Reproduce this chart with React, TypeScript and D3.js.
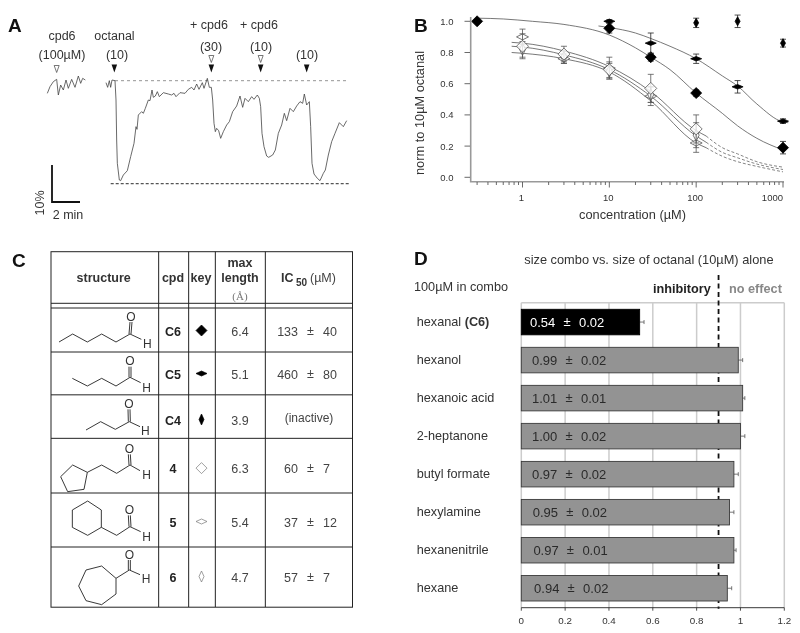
import React from 'react';
import * as d3 from 'd3';

// ---------- Panel A data ----------
const mainTrace: [number, number][] = [[318,352],[323,338],[328,358],[332,338],[336,360],[345,358],[348,300],[350,180],[352,110],[358,60],[362,58],[370,75],[382,88],[392,130],[402,170],[405,195],[408,220],[411,212],[415,255],[425,265],[430,260],[436,275],[445,300],[450,298],[456,330],[460,308],[466,312],[472,325],[478,310],[490,322],[505,318],[515,315],[522,320],[528,310],[540,322],[555,320],[565,332],[575,338],[582,330],[590,348],[597,332],[607,352],[612,335],[622,365],[628,338],[634,338],[638,300],[642,230],[646,205],[650,215],[656,208],[662,185],[670,205],[680,225],[688,235],[698,265],[710,282],[720,312],[728,278],[735,305],[745,295],[755,310],[762,302],[772,315],[778,305],[782,280],[786,200],[792,160],[800,132],[806,128],[818,135],[826,150],[835,200],[845,225],[853,260],[860,238],[870,275],[880,265],[890,282],[900,295],[908,290],[913,318],[920,285],[928,295],[932,220],[936,110],[942,78],[952,65],[960,58],[970,80],[976,90],[985,135],[995,175],[1005,200],[1018,232],[1030,220],[1040,238]];
const cpd6Trace: [number, number][] = [[142,320],[150,340],[160,355],[170,362],[175,315],[182,345],[190,330],[198,360],[205,335],[215,362],[225,338],[235,372],[242,350],[248,365],[256,360]];
const filledArrows = [343, 634, 782, 920];
const openArrows: [number, number][] = [[170, 0], [634, 1], [782, 1]];

// ---------- Panel B data ----------
type Pt = { c: number; v: number; e: number };
const ptsC6: Pt[] = [{c:0.3,v:1.0,e:0.005},{c:10,v:0.955,e:0.03},{c:30,v:0.77,e:0.025},{c:100,v:0.54,e:0.02},{c:1000,v:0.19,e:0.04}];
const ptsC5: Pt[] = [{c:10,v:1.0,e:0.01},{c:30,v:0.86,e:0.065},{c:100,v:0.76,e:0.03},{c:300,v:0.58,e:0.04},{c:1000,v:0.36,e:0.015}];
const ptsC4: Pt[] = [{c:100,v:0.99,e:0.03},{c:300,v:1.0,e:0.04},{c:1000,v:0.86,e:0.025}];
const pts4: Pt[] = [{c:1,v:0.84,e:0.08},{c:3,v:0.79,e:0.05},{c:10,v:0.69,e:0.05},{c:30,v:0.57,e:0.09},{c:100,v:0.31,e:0.09}];
const pts5: Pt[] = [{c:1,v:0.90,e:0.05},{c:3,v:0.76,e:0.03},{c:10,v:0.70,e:0.07},{c:30,v:0.52,e:0.06},{c:100,v:0.22,e:0.06}];
const pts6: Pt[] = [{c:1,v:0.82,e:0.05},{c:3,v:0.77,e:0.04},{c:10,v:0.68,e:0.05},{c:30,v:0.53,e:0.05},{c:100,v:0.27,e:0.08}];
const fitC6: [number, number][] = [[0.3,1.02],[0.6,1.015],[1.3,1.0],[3,0.98],[10,0.912],[20,0.83],[30,0.77],[50,0.69],[100,0.54],[200,0.41],[300,0.33],[500,0.25],[1000,0.175]];
const fitC5: [number, number][] = [[7.5,0.97],[10,0.96],[20,0.925],[30,0.89],[50,0.84],[100,0.76],[200,0.65],[300,0.585],[500,0.47],[1000,0.355],[1150,0.35]];
const fit4: [number, number][] = [[0.75,0.865],[1,0.86],[3,0.81],[10,0.71],[30,0.55],[100,0.30],[130,0.265]];
const fit5: [number, number][] = [[0.75,0.80],[1,0.795],[3,0.76],[10,0.675],[30,0.49],[100,0.22],[130,0.19]];
const fit6: [number, number][] = [[0.75,0.84],[1,0.835],[3,0.785],[10,0.69],[30,0.52],[100,0.265],[130,0.225]];
const tail4: [number, number][] = [[130,0.265],[200,0.19],[300,0.15],[500,0.1],[1000,0.065]];
const tail5: [number, number][] = [[130,0.19],[200,0.135],[300,0.1],[500,0.07],[1000,0.035]];
const tail6: [number, number][] = [[130,0.225],[200,0.16],[300,0.125],[500,0.085],[1000,0.05]];
const yTicksB = [0, 0.2, 0.4, 0.6, 0.8, 1.0];

// ---------- Panel C data ----------
const tableRows = [
  { cpd: 'C6', len: '6.4', ic: '133', pm: '40', kind: 'wide' },
  { cpd: 'C5', len: '5.1', ic: '460', pm: '80', kind: 'flat' },
  { cpd: 'C4', len: '3.9', ic: '', pm: '', kind: 'tall' },
  { cpd: '4', len: '6.3', ic: '60', pm: '7', kind: 'wide' },
  { cpd: '5', len: '5.4', ic: '37', pm: '12', kind: 'flat' },
  { cpd: '6', len: '4.7', ic: '57', pm: '7', kind: 'tall' },
];
type Mol = { bonds: [number, number][][]; o: [number, number]; h: [number, number]; c: [number, number]; hEnd: [number, number] };
const molecules: Mol[] = [
  { bonds: [[[177,1026],[218,1002],[262,1026],[305,1002],[348,1026],[390,1002]]], c:[390,1002], o:[393,948], h:[442,1030], hEnd:[424,1018] },
  { bonds: [[[217,1135],[262,1158],[305,1135],[348,1158],[390,1132]]], c:[390,1132], o:[390,1082], h:[440,1162], hEnd:[422,1148] },
  { bonds: [[[258,1290],[302,1265],[346,1288],[388,1265]]], c:[388,1265], o:[387,1210], h:[436,1290], hEnd:[420,1280] },
  { bonds: [[[218,1395],[262,1417],[252,1468],[203,1475],[182,1430],[218,1395]],[[262,1417],[305,1395],[350,1420],[390,1395]]], c:[390,1395], o:[388,1345], h:[440,1422], hEnd:[420,1412] },
  { bonds: [[[263,1503],[304,1530],[304,1582],[263,1606],[217,1582],[217,1530],[263,1503]],[[304,1582],[350,1606],[390,1580]]], c:[390,1580], o:[388,1528], h:[440,1608], hEnd:[422,1595] },
  { bonds: [[[348,1735],[348,1782],[305,1814],[258,1802],[236,1758],[258,1710],[305,1698],[348,1735]],[[348,1735],[388,1710]]], c:[388,1710], o:[388,1662], h:[438,1736], hEnd:[420,1724] },
];
const colLines = [476, 566, 646, 796];
const rowLines = [1056, 1184.5, 1315, 1479, 1641];

// ---------- Panel D data ----------
const odorants = ['hexanal', 'hexanol', 'hexanoic acid', '2-heptanone', 'butyl formate', 'hexylamine', 'hexanenitrile', 'hexane'];
const ratios = [0.54, 0.99, 1.01, 1.0, 0.97, 0.95, 0.97, 0.94];
const errors = [0.02, 0.02, 0.01, 0.02, 0.02, 0.02, 0.01, 0.02];
const xTicksD = [0, 0.2, 0.4, 0.6, 0.8, 1, 1.2];
const threshold = 0.9;

const SANS = '"Liberation Sans", Arial, sans-serif';
const INK = '#333';

function diamond(cx: number, cy: number, w: number, h: number) {
  return `M${cx},${cy - h / 2}L${cx + w / 2},${cy}L${cx},${cy + h / 2}L${cx - w / 2},${cy}Z`;
}
function triangle(cx: number, top: number, w: number, h: number) {
  return `M${cx - w / 2},${top}L${cx + w / 2},${top}L${cx},${top + h}Z`;
}

function PanelA() {
  const x = d3.scaleLinear().domain([0, 1200]).range([0, 400]);
  const y = d3.scaleLinear().domain([0, 600]).range([200, 0]);
  const line = d3.line<[number, number]>().x(d => x(d[0])).y(d => y(d[1]));
  const T = (t: string, cx: number, by: number) => <text x={cx} y={by} textAnchor="middle" fontSize={12.5} fill={INK}>{t}</text>;
  return (
    <g fontFamily={SANS}>
      <text x={8} y={32} fontSize={19} fontWeight="bold" fill="#111">A</text>
      {T('cpd6', 62, 40)}{T('(100µM)', 62, 59)}{T('octanal', 114.5, 40)}{T('(10)', 117, 59)}
      {T('+ cpd6', 209, 29)}{T('(30)', 211, 51)}{T('+ cpd6', 259, 29)}{T('(10)', 261, 51)}{T('(10)', 307, 59)}
      {filledArrows.map(f => <path key={f} d={triangle(x(f), 64.5, 5.5, 8)} fill="#111" />)}
      {openArrows.map(([f, lvl]) => <path key={f} d={triangle(x(f), lvl ? 55.5 : 65.5, 5, 7)} fill="#fff" stroke="#555" strokeWidth={0.8} />)}
      <line x1={115} x2={348} y1={80.7} y2={80.7} stroke="#777" strokeWidth={0.8} strokeDasharray="3 3" />
      <line x1={110.7} x2={350} y1={183.7} y2={183.7} stroke="#555" strokeWidth={1.2} strokeDasharray="3 2" />
      <path d={line(mainTrace)!} fill="none" stroke="#444" strokeWidth={0.8} />
      <path d={line(cpd6Trace)!} fill="none" stroke="#444" strokeWidth={0.8} />
      <path d="M52,165V202H80" fill="none" stroke="#111" strokeWidth={1.8} />
      <text transform="translate(43.5,203) rotate(-90)" textAnchor="middle" fontSize={12.5} fill={INK}>10%</text>
      {T('2 min', 68, 219)}
    </g>
  );
}

function PanelB() {
  const x = d3.scaleLog().domain([1, 1000]).range([522.5, 783]);
  const y = d3.scaleLinear().domain([0, 1]).range([177.3, 21.3]);
  const smooth = d3.line<[number, number]>().x(d => x(d[0])).y(d => y(d[1])).curve(d3.curveMonotoneX);
  const minors = d3.scaleLog().domain([0.25, 1000]).ticks().filter(t => t >= 0.29);
  const isMajor = (t: number) => [1, 10, 100, 1000].includes(t);
  const series: { pts: Pt[]; w: number; h: number; fill: string; stroke: string }[] = [
    { pts: pts5, w: 12, h: 6, fill: '#fff', stroke: '#555' },
    { pts: pts6, w: 6, h: 12, fill: '#fff', stroke: '#555' },
    { pts: pts4, w: 12, h: 12, fill: '#fff', stroke: '#555' },
    { pts: ptsC6, w: 11, h: 11, fill: '#000', stroke: '#000' },
    { pts: ptsC5, w: 11, h: 4.5, fill: '#000', stroke: '#000' },
    { pts: ptsC4, w: 5, h: 9, fill: '#000', stroke: '#000' },
  ];
  return (
    <g fontFamily={SANS}>
      <text x={414} y={32} fontSize={19} fontWeight="bold" fill="#111">B</text>
      {[fitC6, fitC5, fit4, fit5, fit6].map((f, i) => <path key={i} d={smooth(f)!} fill="none" stroke="#555" strokeWidth={0.8} />)}
      {[tail4, tail5, tail6].map((f, i) => <path key={i} d={smooth(f)!} fill="none" stroke="#666" strokeWidth={0.8} strokeDasharray="3 2" />)}
      {series.map((s, i) => (
        <g key={i}>
          {s.pts.map(p => (
            <g key={p.c}>
              <path d={`M${x(p.c)},${y(p.v - p.e)}V${y(p.v + p.e)}M${x(p.c) - 3},${y(p.v - p.e)}h6M${x(p.c) - 3},${y(p.v + p.e)}h6`} stroke={s.fill === '#000' ? '#222' : '#555'} strokeWidth={0.8} fill="none" />
              <path d={diamond(x(p.c), y(p.v), s.w, s.h)} fill={s.fill === '#000' ? '#000' : 'rgba(255,255,255,0.8)'} stroke={s.stroke} strokeWidth={0.8} />
            </g>
          ))}
        </g>
      ))}
      <path d="M470.7,17V181.7H784" fill="none" stroke="#999" strokeWidth={1.6} />
      {yTicksB.map(t => (
        <g key={t}>
          <line x1={464.5} x2={470} y1={y(t)} y2={y(t)} stroke="#444" strokeWidth={0.8} />
          <text x={453.5} y={y(t) + 3.5} textAnchor="end" fontSize={9.5} fill="#333">{d3.format('.1f')(t)}</text>
        </g>
      ))}
      {minors.map(t => <line key={t} x1={x(t)} x2={x(t)} y1={182} y2={isMajor(t) ? 187.5 : 185} stroke="#444" strokeWidth={0.8} />)}
      {[1, 10, 100].map(t => <text key={t} x={x(t) - 1} y={201} textAnchor="middle" fontSize={9.5} fill="#333">{t}</text>)}
      <text x={783} y={201} textAnchor="end" fontSize={9.5} fill="#333">1000</text>
      <text transform="translate(424,113) rotate(-90)" textAnchor="middle" fontSize={12.8} fill={INK}>norm to 10µM octanal</text>
      <text x={632.5} y={219} textAnchor="middle" fontSize={12.8} fill={INK}>concentration (µM)</text>
    </g>
  );
}

function PanelC() {
  const z = (v: number) => v / 3;
  const centres = [331, 374, 420, 468.6, 522, 577];
  const bondLine = d3.line<[number, number]>().x(d => z(d[0])).y(d => z(d[1]));
  const hdr = { fontWeight: 'bold' as const, fontSize: 12.5, textAnchor: 'middle' as const, fill: '#333' };
  return (
    <g fontFamily={SANS}>
      <text x={12} y={267} fontSize={19} fontWeight="bold" fill="#111">C</text>
      <rect x={51} y={251.7} width={301.5} height={355.5} fill="none" stroke="#222" strokeWidth={1} />
      {colLines.map(c => <line key={c} x1={z(c)} x2={z(c)} y1={251.7} y2={607} stroke="#222" strokeWidth={1} />)}
      {rowLines.map((r, i) => <line key={i} x1={51} x2={352.5} y1={z(r)} y2={z(r)} stroke="#222" strokeWidth={1} />)}
      <line x1={51} x2={352.5} y1={303.3} y2={303.3} stroke="#222" strokeWidth={1} />
      <line x1={51} x2={352.5} y1={308} y2={308} stroke="#222" strokeWidth={1} />
      <text x={103.7} y={281.5} {...hdr}>structure</text>
      <text x={173} y={281.5} {...hdr}>cpd</text>
      <text x={201} y={281.5} {...hdr}>key</text>
      <text x={240} y={266.5} {...hdr}>max</text>
      <text x={240} y={281.5} {...hdr}>length</text>
      <text x={240} y={300} textAnchor="middle" fontSize={11} fontFamily='"Liberation Serif", serif' fill="#777">(Å)</text>
      <text x={281} y={282} fontSize={12.5} fontWeight="bold" fill="#333">IC</text>
      <text x={296} y={286} fontSize={10} fontWeight="bold" fill="#333">50</text>
      <text x={310} y={282} fontSize={12.5} fill="#444">(µM)</text>
      {tableRows.map((r, i) => {
        const cy = centres[i];
        const open = i > 2;
        const w = r.kind === 'tall' ? 5 : 11;
        const h = r.kind === 'flat' ? 5 : 11;
        const m = molecules[i];
        return (
          <g key={r.cpd}>
            <text x={173} y={cy + 4.5} textAnchor="middle" fontSize={12.5} fontWeight="bold" fill="#222">{r.cpd}</text>
            <path d={diamond(201.5, cy - 0.5, w, h)} fill={open ? '#fff' : '#000'} stroke={open ? '#777' : '#000'} strokeWidth={0.7} />
            <text x={240} y={cy + 4.5} textAnchor="middle" fontSize={12.5} fill="#444">{r.len}</text>
            {r.ic ? (
              <g fontSize={12.5} fill="#444">
                <text x={298} y={cy + 4.5} textAnchor="end">{r.ic}</text>
                <text x={310.5} y={cy + 3.5} textAnchor="middle">±</text>
                <text x={323} y={cy + 4.5}>{r.pm}</text>
              </g>
            ) : (
              <text x={309} y={cy + 2} textAnchor="middle" fontSize={12} fill="#444">(inactive)</text>
            )}
            {m.bonds.map((b, k) => <path key={k} d={bondLine(b)!} fill="none" stroke="#222" strokeWidth={0.9} />)}
            <line x1={z(m.c[0])} x2={z(m.hEnd[0])} y1={z(m.c[1])} y2={z(m.hEnd[1])} stroke="#222" strokeWidth={0.9} />
            <line x1={z(m.c[0]) - 1} x2={z(m.o[0]) - 1} y1={z(m.c[1])} y2={z(m.o[1]) + 6} stroke="#222" strokeWidth={0.9} />
            <line x1={z(m.c[0]) + 1} x2={z(m.o[0]) + 1} y1={z(m.c[1])} y2={z(m.o[1]) + 6} stroke="#222" strokeWidth={0.9} />
            <text x={z(m.o[0])} y={z(m.o[1]) + 4.5} textAnchor="middle" fontSize={12} fill="#333">O</text>
            <text x={z(m.h[0])} y={z(m.h[1]) + 4.5} textAnchor="middle" fontSize={12} fill="#333">H</text>
          </g>
        );
      })}
    </g>
  );
}

function PanelD() {
  const x = d3.scaleLinear().domain([0, 1.2]).range([521.3, 784.3]);
  const y = d3.scaleBand<string>().domain(odorants).range([309.3, 601]).paddingInner(12.5 / 38);
  const top = 302.7, axisY = 607.7;
  return (
    <g fontFamily={SANS}>
      <text x={414} y={264.5} fontSize={19} fontWeight="bold" fill="#111">D</text>
      <text x={524.3} y={264} fontSize={12.8} fill={INK}>size combo vs. size of octanal (10µM) alone</text>
      <text x={414} y={291} fontSize={12.7} fill={INK}>100µM in combo</text>
      <text x={653} y={292.5} fontSize={12.7} fontWeight="bold" fill="#222">inhibitory</text>
      <text x={729} y={292.5} fontSize={12.7} fontWeight="bold" fill="#888">no effect</text>
      <line x1={x(0)} x2={x(1.2)} y1={top} y2={top} stroke="#ccc" strokeWidth={1.5} />
      {xTicksD.map(t => <line key={t} x1={x(t)} x2={x(t)} y1={top} y2={axisY} stroke="#ccc" strokeWidth={1.5} />)}
      <line x1={x(threshold)} x2={x(threshold)} y1={275} y2={axisY + 1} stroke="#111" strokeWidth={1.8} strokeDasharray="5 3.5" />
      {odorants.map((o, i) => {
        const by = y(o)!, bh = y.bandwidth(), mid = by + bh / 2;
        const black = i === 0;
        const vx = 530 + (i === 0 ? 0 : 2 + (i >= 5 ? i - 4 : 0) * 0.7);
        const color = black ? '#fff' : '#2a2a2a';
        return (
          <g key={o}>
            <path d={`M${x(ratios[i])},${mid}H${x(ratios[i] + errors[i])}M${x(ratios[i] + errors[i])},${mid - 2}v4`} stroke="#555" strokeWidth={0.8} fill="none" />
            <rect x={x(0)} y={by} width={x(ratios[i]) - x(0)} height={bh} fill={black ? '#000' : '#939393'} stroke={black ? '#000' : '#3a3a3a'} strokeWidth={0.9} />
            <text x={416.7} y={mid + 3.5} fontSize={12.7} fill={INK}>
              {o}{black && <tspan fontWeight="bold"> (C6)</tspan>}
            </text>
            <g fontSize={13} fill={color}>
              <text x={vx} y={mid + 4.7}>{d3.format('.2f')(ratios[i])}</text>
              <text x={vx + 37} y={mid + 3.5} textAnchor="middle">±</text>
              <text x={vx + 49} y={mid + 4.7}>{d3.format('.2f')(errors[i])}</text>
            </g>
          </g>
        );
      })}
      <line x1={x(0)} x2={x(1.2)} y1={axisY} y2={axisY} stroke="#222" strokeWidth={0.9} />
      {xTicksD.map(t => (
        <g key={t}>
          <line x1={x(t)} x2={x(t)} y1={axisY} y2={axisY + 3} stroke="#222" strokeWidth={0.8} />
          <text x={x(t)} y={624} textAnchor="middle" fontSize={9.8} fill="#333">{t}</text>
        </g>
      ))}
    </g>
  );
}

export default function App() {
  return (
    <svg width={800} height={633} viewBox="0 0 800 633"
      style={{ position: 'absolute', left: 0, top: 0, background: '#fff', filter: 'blur(0.3px)' }}>
      <PanelA />
      <PanelB />
      <PanelC />
      <PanelD />
    </svg>
  );
}
